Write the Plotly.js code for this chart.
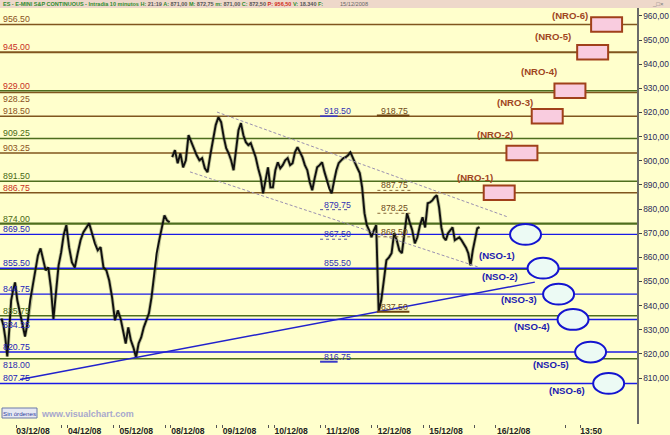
<!DOCTYPE html>
<html><head><meta charset="utf-8">
<script src="https://cdn.plot.ly/plotly-3.0.1.min.js"></script>
<style>html,body{margin:0;padding:0;background:#FFFFCC;}#chart{width:670px;height:435px;}</style>
</head><body><div id="chart"></div>
<script>
// ---------------- DATA ----------------
const dayLabels = ['03/12/08','04/12/08','05/12/08','08/12/08','09/12/08','10/12/08','11/12/08','12/12/08','15/12/08'];
const extraTickLabels = ['16/12/08','13:50'];
// intraday closes (sampled) per session
const closes0212tail = [834.7, 831.8, 826.4, 818.9, 829.7, 842.2, 846.3, 849.6];
const closes0312 = [842.2, 836.8, 832.6, 827.2, 833.0, 842.2, 848.4, 854.6, 860.8, 863.7, 858.8, 854.6, 855.8, 847.6, 834.5, 845.1, 856.7, 862.1, 869.5, 873.3];
const closes0412 = [864.2, 857.9, 855.8, 861.7, 867.1, 870.4, 872.4, 874.1, 870.0, 865.8, 862.9, 864.2, 855.8, 854.6, 850.4, 843.4, 833.9, 838.0];
const closes0512 = [834.7, 829.7, 824.3, 831.0, 825.6, 822.6, 818.5, 824.3, 826.8, 831.0, 833.9, 836.8, 843.4, 851.7, 861.7, 867.1, 872.4, 877.4, 875.3, 874.5];
const closes0812 = [901.5, 904.4, 899.0, 903.1, 897.3, 900.2, 910.6, 907.7, 904.4, 902.3, 900.2, 901.1, 896.9, 895.3, 902.3, 908.5, 914.8, 918.1, 916.0];
const closes0912 = [909.8, 905.2, 903.1, 900.2, 896.1, 904.4, 912.7, 915.6, 910.6, 907.7, 906.5, 907.3, 904.4, 901.5, 896.9, 893.2, 886.5, 892.0, 897.3, 889.0, 889.0];
const closes1012 = [896.1, 899.4, 896.9, 898.2, 900.2, 901.1, 898.2, 899.0, 903.6, 905.6, 903.6, 901.5, 898.2, 896.1, 891.1, 887.8, 892.8, 897.3, 898.2, 899.4, 895.3];
const closes1112 = [892.0, 888.6, 886.5, 892.0, 896.1, 899.0, 900.2, 901.1, 901.5, 902.3, 903.6, 901.1, 899.0, 896.9, 894.9, 889.0, 878.3, 873.3, 871.2, 868.3, 871.2, 873.3];
const closes1212 = [837.5, 842.2, 850.4, 858.8, 860.0, 861.7, 870.0, 867.1, 862.9, 861.7, 870.0, 878.3, 874.5, 871.2, 865.8, 868.3, 873.3, 876.6, 872.4, 882.4];
const closes1512 = [882.8, 883.6, 884.9, 885.7, 880.7, 872.4, 868.3, 867.1, 870.0, 871.2, 872.4, 867.1, 867.9, 868.3, 867.1, 865.8, 864.0, 861.7, 856.7, 862.9, 867.1, 872.0, 872.5];
const sessionCloses = [closes0312, closes0412, closes0512, closes0812, closes0912, closes1012, closes1112, closes1212, closes1512];
const weekendAfter = ['05/12/08'];

// horizontal levels
const brownLevels = [956.50, 945.00, 928.25, 918.50, 903.25, 886.75];
const greenLevels = [929.00, 909.25, 891.50, 874.00, 835.75, 818.00];
const blueLevels  = [869.50, 855.50, 844.75, 834.25, 820.75, 807.75];
const greenUnlabeled = [855.00];
// day markers
const blueMarks  = [918.50, 879.75, 867.50, 855.50, 816.75];
const brownMarks = [918.75, 887.75, 878.25, 868.50, 837.50];
// targets
const nroLabels = ['(NRO-1)','(NRO-2)','(NRO-3)','(NRO-4)','(NRO-5)','(NRO-6)'];
const nroLevels = [886.75, 903.25, 918.50, 929.00, 945.00, 956.50];
const nsoLabels = ['(NSO-1)','(NSO-2)','(NSO-3)','(NSO-4)','(NSO-5)','(NSO-6)'];
const nsoLevels = [869.50, 855.50, 844.75, 834.25, 820.75, 807.75];
const yTickVals = [810, 820, 830, 840, 850, 860, 870, 880, 890, 900, 910, 920, 930, 940, 950, 960];

// ---------------- BUILD ----------------
const F = 'Liberation Sans, Arial, sans-serif';
const xs = [], ys = [];
const tailSpan = 0.3;
closes0212tail.forEach((v, i) => { xs.push(-tailSpan + tailSpan * (i + 0.5) / closes0212tail.length); ys.push(v); });
sessionCloses.forEach((arr, k) => {
  arr.forEach((v, i) => { xs.push(k + (i + 0.5) / arr.length); ys.push(v); });
  if (weekendAfter.includes(dayLabels[k])) { xs.push(null); ys.push(null); }
});

function sessionLow(k) {
  const arr = sessionCloses[k]; let m = 0;
  arr.forEach((v, i) => { if (v < arr[m]) m = i; });
  return {x: k + (m + 0.5) / arr.length, y: arr[m]};
}
const lowA = sessionLow(dayLabels.indexOf('05/12/08'));
const lowB = sessionLow(dayLabels.indexOf('12/12/08'));
const trendSlope = (lowB.y - lowA.y) / (lowB.x - lowA.x);
const trendX0 = 0.077, trendX1 = 10.05;

const C = {green: '#4E6E1E', brown: '#80561E', blue: '#1A1AE6', red: '#C8301E'};
const shapes = [], ann = [];

function hline(v, color, w) {
  shapes.push({type: 'line', xref: 'paper', x0: 0, x1: 1, yref: 'y', y0: v, y1: v, line: {color: color, width: w}, layer: 'below'});
}
const redLabel = [945.00, 929.00, 886.75];
const labelBelow = [928.25, 834.25, 818.00];
function levelLabel(v, color) {
  const below = labelBelow.includes(v);
  ann.push({xref: 'paper', x: 0, xanchor: 'left', xshift: 1, yref: 'y', y: v, yanchor: below ? 'top' : 'bottom', yshift: below ? 1 : -2,
    text: v.toFixed(2), showarrow: false, font: {family: F, size: 8.8, color: color}});
}
brownLevels.forEach(v => { hline(v, C.brown, v === 945 ? 2 : 1.5); levelLabel(v, redLabel.includes(v) ? C.red : '#8A5222'); });
greenLevels.forEach(v => { hline(v, C.green, v === 874 ? 2.2 : 1.5); levelLabel(v, redLabel.includes(v) ? C.red : (v === 818 ? '#2A2AB0' : '#4A6A14')); });
greenUnlabeled.forEach(v => hline(v, C.green, 1.2));
blueLevels.forEach(v => { hline(v, C.blue, 1.4); levelLabel(v, '#2222B8'); });

// channel (dashed) lines
shapes.push({type: 'line', xref: 'x', yref: 'y', x0: 3.893, y0: 920.2, x1: 9.53, y1: 876.7, line: {color: '#9A90B0', width: 1, dash: '3px,2px'}});
shapes.push({type: 'line', xref: 'x', yref: 'y', x0: 3.37, y0: 895.4, x1: 8.95, y1: 856.0, line: {color: '#9A90B0', width: 1, dash: '3px,2px'}});
// trend line through lows
shapes.push({type: 'line', xref: 'x', yref: 'y', x0: trendX0, y0: lowA.y + trendSlope * (trendX0 - lowA.x),
  x1: trendX1, y1: lowA.y + trendSlope * (trendX1 - lowA.x), line: {color: '#2222CC', width: 1.5}});

// day markers
const solidBlue = [918.50, 816.75], dotBlue = [879.75, 867.50];
blueMarks.forEach(v => {
  ann.push({xref: 'x', x: 5.93, xanchor: 'left', yref: 'y', y: v, yanchor: 'bottom', yshift: -2, text: v.toFixed(2), showarrow: false, font: {family: F, size: 8.8, color: '#3030B4'}});
  if (solidBlue.includes(v)) shapes.push({type: 'line', xref: 'x', yref: 'y', x0: 5.89, x1: 6.23, y0: v, y1: v, line: {color: '#3A3AC8', width: v === 816.75 ? 2 : 1.6}});
  if (dotBlue.includes(v)) shapes.push({type: 'line', xref: 'x', yref: 'y', x0: 5.89, x1: 6.43, y0: v, y1: v, line: {color: '#5050A0', width: 1, dash: 'dot'}});
});
const solidBrown = [918.75, 837.50];
brownMarks.forEach(v => {
  ann.push({xref: 'x', x: 7.03, xanchor: 'left', yref: 'y', y: v, yanchor: 'bottom', yshift: -2, text: v.toFixed(2), showarrow: false, font: {family: F, size: 8.8, color: '#6E4A1A'}});
  if (solidBrown.includes(v)) shapes.push({type: 'line', xref: 'x', yref: 'y', x0: 6.99, x1: 7.62, y0: v, y1: v, line: {color: '#6E4410', width: 2}});
  else shapes.push({type: 'line', xref: 'x', yref: 'y', x0: 7.0, x1: 7.64, y0: v, y1: v, line: {color: '#8A6A3A', width: 1, dash: 'dot'}});
});

// NRO boxes
const nroX = [9.36, 9.80, 10.29, 10.73, 11.17, 11.44];
const nroLabelPos = [[8.90, 893.2], [9.28, 911.0], [9.66, 924.3], [10.13, 936.8], [10.40, 951.3], [10.74, 960.4]];
nroLevels.forEach((v, i) => {
  shapes.push({type: 'rect', xref: 'x', yref: 'y', x0: nroX[i] - 0.3, x1: nroX[i] + 0.3, y0: v - 3.0, y1: v + 3.0,
    fillcolor: '#F9CCDF', line: {color: '#A0401A', width: 2}});
  ann.push({xref: 'x', yref: 'y', x: nroLabelPos[i][0], y: nroLabelPos[i][1], text: nroLabels[i], showarrow: false,
    font: {family: F, size: 9.6, color: '#A0461E', weight: 'bold'}});
});
// NSO ellipses
const nsoX = [9.87, 10.21, 10.51, 10.79, 11.13, 11.48];
const nsoLabelPos = [[9.31, 860.6], [9.37, 851.9], [9.74, 842.4], [10.0, 831.5], [10.36, 815.8], [10.67, 804.9]];
nsoLevels.forEach((v, i) => {
  shapes.push({type: 'circle', xref: 'x', yref: 'y', x0: nsoX[i] - 0.3, x1: nsoX[i] + 0.3, y0: v - 4.3, y1: v + 4.3,
    fillcolor: 'rgba(236,250,244,1)', line: {color: '#1414D0', width: 2}});
  ann.push({xref: 'x', yref: 'y', x: nsoLabelPos[i][0], y: nsoLabelPos[i][1], text: nsoLabels[i], showarrow: false,
    font: {family: F, size: 9.6, color: '#1A1AB0', weight: 'bold'}});
});

// header bar
const PH = 416, PW = 637;
shapes.push({type: 'rect', xref: 'paper', yref: 'paper', x0: 0, x1: 670 / PW, y0: 1, y1: 1 + 8 / PH, fillcolor: '#EED8CA', line: {width: 0}});
const g = s => '<span style="color:#2E8B2E">' + s + '</span>';
const d = s => '<span style="color:#555555">' + s + '</span>';
const r = s => '<span style="color:#D02818">' + s + '</span>';
ann.push({xref: 'paper', yref: 'paper', x: 0, xanchor: 'left', xshift: 1, y: 1 + 4 / PH, yanchor: 'middle', showarrow: false,
  text: g('ES - E-MINI S&amp;P CONTINUOUS - Intradia 10 minutos') + ' ' + g('H:') + ' ' + d('21:19') + ' ' + g('A:') + ' ' + d('871,00') + ' ' +
    g('M:') + ' ' + d('872,75') + ' ' + g('m:') + ' ' + d('871,00') + ' ' + g('C:') + ' ' + d('872,50') + ' ' + r('P:') + ' ' + r('956,50') + ' ' +
    g('V:') + ' ' + d('18.340') + ' ' + g('F:'),
  font: {family: F, size: 5.5, weight: 'bold'}});
ann.push({xref: 'paper', yref: 'paper', x: 338 / PW, xanchor: 'left', y: 1 + 4 / PH, yanchor: 'middle', showarrow: false,
  text: '15/12/2008', font: {family: F, size: 5.6, color: '#666'}});
ann.push({xref: 'paper', yref: 'paper', x: 658 / PW, xanchor: 'center', y: 1 + 4 / PH, yanchor: 'middle', showarrow: false,
  text: '_□×', font: {family: F, size: 6, color: '#777'}});

// bottom-left
shapes.push({type: 'rect', xref: 'paper', yref: 'paper', x0: 2 / PW, x1: 37 / PW, y0: 6 / PH, y1: 16 / PH, fillcolor: '#E6E8F2', line: {color: '#6A78A8', width: 1}});
ann.push({xref: 'paper', yref: 'paper', x: 19.5 / PW, xanchor: 'center', y: 11 / PH, yanchor: 'middle', borderpad: 0, showarrow: false,
  text: 'Sin órdenes', font: {family: F, size: 6.2, color: '#3040A0'}});
ann.push({xref: 'paper', yref: 'paper', x: 40 / PW, xanchor: 'left', y: 10 / PH, yanchor: 'middle', borderpad: 0, showarrow: false,
  text: 'www.visualchart.com', font: {family: F, size: 9, color: '#A8A8CC', weight: 'bold'}});

// x ticks
const tickPos = dayLabels.map((_, k) => k + 0.33).concat([9.64, 11.14]);
const tickText = dayLabels.concat(extraTickLabels);
const minorPos = dayLabels.map((_, k) => k).concat(dayLabels.map((_, k) => k + 0.89)).concat([9.28, 10.64, 10.93]);

const traces = [
  {x: xs, y: ys, type: 'scatter', mode: 'lines', line: {color: 'rgba(70,80,50,0.35)', width: 3.6}, hoverinfo: 'skip', connectgaps: false},
  {x: xs, y: ys, type: 'scatter', mode: 'lines', line: {color: '#101010', width: 1.9}, hoverinfo: 'skip', connectgaps: false}
];

const layout = {
  width: 670, height: 435,
  margin: {l: 0, r: 33, t: 8, b: 11, pad: 0},
  paper_bgcolor: '#FFFFCC', plot_bgcolor: '#FFFFCC',
  showlegend: false,
  xaxis: {range: [-0.31, 12.029], showgrid: false, zeroline: false, showline: false,
    tickmode: 'array', tickvals: tickPos, ticktext: tickText, ticks: '',
    tickfont: {family: F, size: 8.6, color: '#222', weight: 'bold'},
    minor: {tickmode: 'array', tickvals: minorPos, ticks: 'outside', ticklen: 3, tickcolor: '#555', tickwidth: 1, showgrid: false}},
  yaxis: {side: 'right', range: [790.94, 963.31], showgrid: false, zeroline: false,
    showline: true, linecolor: '#6A6A6A', linewidth: 1.5,
    tickmode: 'array', tickvals: yTickVals, ticktext: yTickVals.map(v => v.toFixed(2).replace('.', ',')),
    ticks: 'outside', ticklen: 3, tickcolor: '#444', tickwidth: 1,
    tickfont: {family: F, size: 8.4, color: '#2B2B5A'}},
  shapes: shapes, annotations: ann
};
Plotly.newPlot('chart', traces, layout, {displayModeBar: false, staticPlot: true});
</script></body></html>
